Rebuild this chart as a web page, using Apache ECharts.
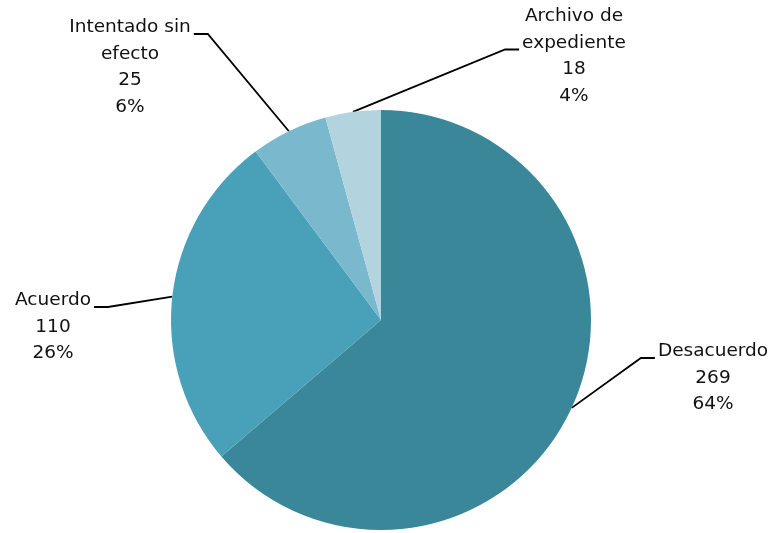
<!DOCTYPE html>
<html>
<head>
<meta charset="utf-8">
<script src="https://cdn.jsdelivr.net/npm/echarts@6/dist/echarts.min.js"></script>
<style>
  html, body { margin: 0; padding: 0; background: #fff; }
  #chart { width: 773px; height: 533px; }
</style>
</head>
<body>
<div id="chart"></div>
<script>
// data
var categories = ['Desacuerdo', 'Acuerdo', 'Intentado sin\nefecto', 'Archivo de\nexpediente'];
var counts = [269, 110, 25, 18];
var colors = ['#3a8799', '#48a1b9', '#7ab9cd', '#b3d4df'];

// where each label block sits (centre x, top y) and which text row the leader line meets
var labelPos = [
    { x: 713, y: 338, row: 0 },
    { x: 53, y: 287, row: 0 },
    { x: 130, y: 14, row: 0 },
    { x: 574, y: 3, row: 1 }
];
var lineH = 26.5;
var pieCenter = [381, 320];

var chart = echarts.init(document.getElementById('chart'));

var option = {
    animation: false,
    color: colors,
    series: [{
        type: 'pie',
        center: pieCenter,
        radius: 210,
        startAngle: 90,
        clockwise: true,
        data: categories.map(function (name, i) {
            return { name: name, value: counts[i] };
        }),
        itemStyle: { borderWidth: 0 },
        label: {
            show: true,
            position: 'outside',
            formatter: function (p) {
                return p.name + '\n' + p.value + '\n' + Math.round(p.percent) + '%';
            },
            fontFamily: 'DejaVu Sans',
            fontSize: 18.5,
            lineHeight: lineH,
            color: '#111',
            align: 'center'
        },
        labelLine: {
            show: true,
            smooth: false,
            lineStyle: { color: '#000', width: 1.8 }
        },
        emphasis: { disabled: true },
        labelLayout: function (params) {
            var p = labelPos[params.dataIndex];
            var w = params.labelRect.width;
            var right = p.x > pieCenter[0];
            var lineY = p.y + p.row * lineH + 20;
            var endX = right ? p.x - w / 2 - 3 : p.x + w / 2 + 3;
            var elbowX = right ? endX - 14 : endX + 14;
            var start = params.labelLinePoints[0];
            return {
                x: p.x,
                y: p.y,
                align: 'center',
                verticalAlign: 'top',
                labelLinePoints: [start, [elbowX, lineY], [endX, lineY]]
            };
        }
    }]
};

chart.setOption(option);
</script>
</body>
</html>
